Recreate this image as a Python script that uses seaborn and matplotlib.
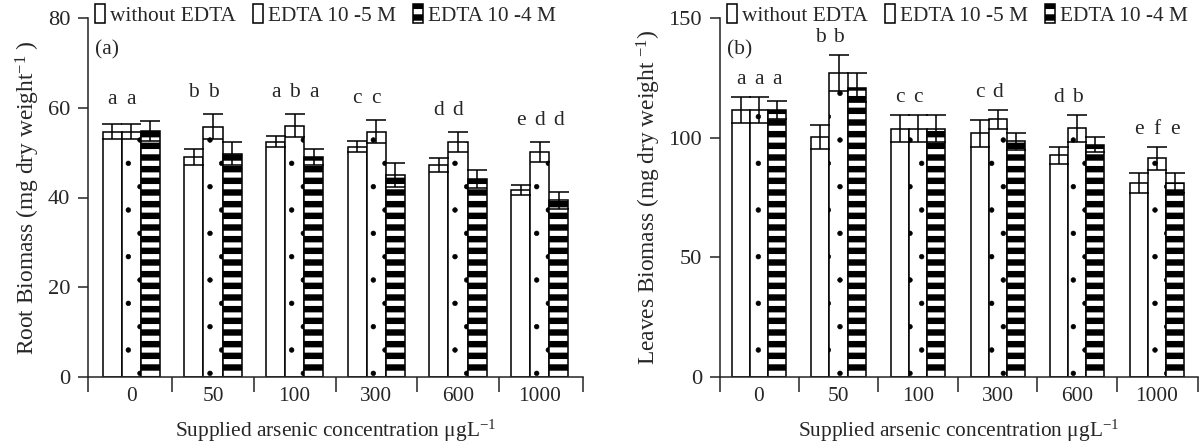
"""Root and leaf biomass under arsenic with and without EDTA."""

import matplotlib.pyplot as plt
from matplotlib.patches import Patch
import seaborn as sns
import pandas as pd

# ---- data ----
concentrations = ['0', '50', '100', '300', '600', '1000']
treatments = ['without EDTA', 'EDTA 10 -5 M', 'EDTA 10 -4 M']

root_without = [54.7, 49.0, 52.4, 51.3, 47.2, 41.7]
root_edta5 = [54.7, 55.8, 56.0, 54.7, 52.4, 50.2]
root_edta4 = [54.8, 49.8, 49.1, 45.0, 44.2, 39.4]
root_err_without = [1.6, 1.8, 1.2, 1.2, 1.5, 1.1]
root_err_edta5 = [1.6, 2.8, 2.6, 2.6, 2.2, 2.2]
root_err_edta4 = [2.3, 2.6, 1.8, 2.6, 2.0, 1.9]
root_letters = [['a', 'a', ''], ['b', 'b', ''], ['a', 'b', 'a'],
                ['c', 'c', ''], ['d', 'd', ''], ['e', 'd', 'd']]

leaf_without = [111.6, 100.4, 103.8, 101.8, 92.6, 80.9]
leaf_edta5 = [111.6, 126.9, 103.8, 107.6, 103.9, 91.3]
leaf_edta4 = [111.6, 120.9, 103.8, 98.4, 97.0, 80.9]
leaf_err_without = [5.5, 5.0, 5.6, 5.5, 3.6, 4.2]
leaf_err_edta5 = [5.5, 7.5, 5.6, 4.0, 5.6, 5.0]
leaf_err_edta4 = [3.7, 6.0, 5.6, 3.5, 3.1, 4.2]
leaf_letters = [['a', 'a', 'a'], ['b', 'b', ''], ['c', 'c', ''],
                ['c', 'd', ''], ['d', 'b', ''], ['e', 'f', 'e']]

hatches = ['', '.', '--']
hatch_widths = [0.4, 0.3, 3.3]
DPI = 140

sns.set_style('ticks')
plt.rcParams['font.family'] = ['Liberation Serif', 'DejaVu Serif']
plt.rcParams['mathtext.fontset'] = 'custom'
plt.rcParams['mathtext.rm'] = 'Liberation Serif'
plt.rcParams['mathtext.it'] = 'Liberation Serif:italic'
plt.rcParams['hatch.color'] = 'black'
plt.rcParams['axes.linewidth'] = 0.8


def set_hatch(patch, hatch, lw):
    """Give one patch a hatch with its own hatch line width."""
    patch.set_hatch(hatch)
    if hasattr(patch, 'set_hatch_linewidth'):
        patch.set_hatch_linewidth(lw)
    orig = patch.draw

    def draw(renderer, orig=orig, lw=lw):
        with plt.rc_context({'hatch.linewidth': lw}):
            orig(renderer)
    patch.draw = draw


def long_table(series):
    rows = []
    for name, values in zip(treatments, series):
        for conc, v in zip(concentrations, values):
            rows.append({'conc': conc, 'treatment': name, 'value': v})
    return pd.DataFrame(rows)


def panel(ax, series, errors, letters, ymax, yticks, ylabel, tag, width,
          xlim, letter_off):
    df = long_table(series)
    sns.barplot(data=df, x='conc', y='value', hue='treatment',
                order=concentrations, hue_order=treatments,
                palette=['white'] * 3, edgecolor='black', linewidth=0.8,
                width=width, errorbar=None, legend=False, ax=ax)

    tops = [[0.0] * 3 for _ in concentrations]
    for j, (container, err) in enumerate(zip(ax.containers, errors)):
        xs = []
        for bar in container:
            set_hatch(bar, hatches[j], hatch_widths[j])
            xs.append(bar.get_x() + bar.get_width() / 2)
        ax.errorbar(xs, series[j], yerr=err, fmt='none', ecolor='black',
                    elinewidth=0.8, capsize=5, capthick=0.8)
        for i, x in enumerate(xs):
            tops[i][j] = (x, series[j][i] + err[i])

    for i, group in enumerate(letters):
        ytop = max(t[1] for t in tops[i])
        for j, letter in enumerate(group):
            if letter:
                ax.annotate(letter, (tops[i][j][0], ytop), xytext=(0, letter_off),
                            textcoords='offset points', ha='center', va='center',
                            fontsize=11)

    ax.set_xlim(*xlim)
    ax.set_ylim(0, ymax)
    ax.set_yticks(yticks)
    divs = [xlim[0]] + [i + 0.5 for i in range(5)] + [xlim[1]]
    ax.set_xticks(divs)
    ax.set_xticklabels([])
    ax.set_xticks(range(len(concentrations)), minor=True)
    ax.set_xticklabels(concentrations, minor=True)
    ax.tick_params(axis='x', which='major', length=7.5, width=0.8, direction='out')
    ax.tick_params(axis='x', which='minor', length=0, pad=5, labelsize=11)
    ax.tick_params(axis='y', length=5, width=0.8, pad=4, labelsize=11.5)
    sns.despine(ax=ax)
    ax.set_xlabel('Supplied arsenic concentration \u03bcgL$^{-1}$', fontsize=11,
                  labelpad=6)
    ax.set_ylabel(ylabel, fontsize=12, labelpad=3)
    ax.text(0.014, 0.91, tag, transform=ax.transAxes, fontsize=11,
            ha='left', va='center')

    handles = []
    for h, t, lw in zip(hatches, treatments, hatch_widths):
        p = Patch(facecolor='white', edgecolor='black', linewidth=0.8, label=t)
        handles.append(p)
    leg = ax.legend(handles=handles, loc='center left',
                    bbox_to_anchor=(0.015, 1.008), ncol=3, frameon=False,
                    fontsize=11, handlelength=0.45, handleheight=0.95,
                    handletextpad=0.25, columnspacing=0.8, borderpad=0,
                    borderaxespad=0)
    for p, h, lw in zip(leg.get_patches(), hatches, hatch_widths):
        set_hatch(p, h, lw)


fig = plt.figure(figsize=(1200 / DPI, 447 / DPI), dpi=DPI)
ax1 = fig.add_axes([88 / 1200, 70 / 447, 495 / 1200, 359 / 447])
ax2 = fig.add_axes([720 / 1200, 70 / 447, 478 / 1200, 359 / 447])

panel(ax1, [root_without, root_edta5, root_edta4],
      [root_err_without, root_err_edta5, root_err_edta4], root_letters,
      80, [0, 20, 40, 60, 80], 'Root Biomass (mg dry weight$^{-1}$ )', '(a)',
      0.70, (-0.53, 5.53), 11)
panel(ax2, [leaf_without, leaf_edta5, leaf_edta4],
      [leaf_err_without, leaf_err_edta5, leaf_err_edta4], leaf_letters,
      150, [0, 50, 100, 150], 'Leaves Biomass (mg dry weight $^{-1}$)', '(b)',
      0.68, (-0.49, 5.52), 9)

plt.savefig('out.png', dpi=DPI)
plt.close()
